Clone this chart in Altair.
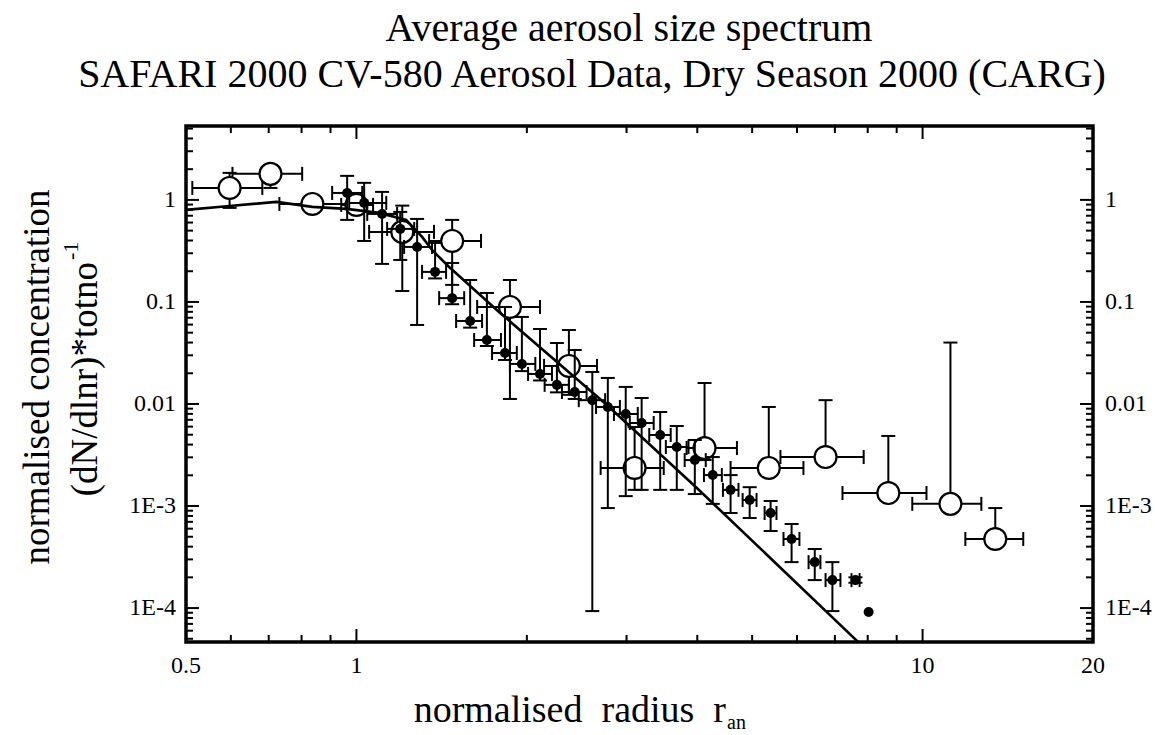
import altair as alt
import pandas as pd

FONT = "Liberation Serif"
W, H = 907, 516
XDOM = [0.5, 20]
YDOM = [4.65e-5, 5.3]

# ---- open circles (larger sample) ----
c_x = [0.597, 0.705, 0.836, 1.00, 1.205, 1.476, 1.867, 2.373, 3.10, 4.12, 5.35, 6.74, 8.70, 11.2, 13.44]
c_y = [1.31, 1.80, 0.913, 0.893, 0.486, 0.396, 0.0893, 0.0236, 0.00236, 0.00370, 0.00236, 0.00302, 0.00134, 0.00105, 0.000475]
c_xlo = [0.513, 0.604, 0.731, 0.94, 1.053, 1.344, 1.634, 2.145, 2.70, 3.83, 4.58, 5.61, 7.22, 9.59, 11.9]
c_xhi = [0.682, 0.802, 0.971, 1.07, 1.371, 1.66, 2.11, 2.66, 3.49, 4.70, 6.16, 7.87, 10.16, 12.7, 15.06]
c_ylo = [0.835, 1.31, 0.746, 0.75, 0.128, 0.147, 0.0112, 0.0123, 0.00144, 0.00282, 0.00236, 0.00302, 0.00134, 0.00105, 0.000475]
c_yhi = [1.84, 2.20, 1.09, 1.05, 0.879, 0.637, 0.164, 0.0531, 0.00595, 0.0161, 0.00935, 0.0109, 0.00486, 0.04, 0.000955]

# ---- filled dots ----
d_x = [0.963, 1.032, 1.11, 1.195, 1.28, 1.377, 1.476, 1.588, 1.70, 1.83, 1.96, 2.11, 2.26, 2.43, 2.61,
       2.78, 2.99, 3.19, 3.44, 3.68, 3.96, 4.26, 4.58, 4.95, 5.39, 5.87, 6.45, 6.93, 7.61, 8.03]
d_y = [1.17, 0.935, 0.729, 0.520, 0.346, 0.197, 0.109, 0.0651, 0.0424, 0.0316, 0.0247, 0.0197, 0.0154, 0.0131, 0.0109,
       0.00935, 0.00798, 0.00651, 0.00497, 0.00379, 0.00282, 0.00201, 0.00144, 0.001145, 0.000854, 0.000475, 0.000282, 0.000188, 0.000188, 0.0000914]
d_xlo = [0.906, 0.971, 1.045, 1.133, 1.214, 1.306, 1.40, 1.50, 1.614, 1.736, 1.867, 2.01, 2.15, 2.307, 2.47,
         2.65, 2.85, 3.04, 3.29, 3.52, 3.80, 4.11, 4.44, 4.81, 5.26, 5.68, 6.29, 6.74, 7.49, 8.03]
d_xhi = [1.024, 1.129, 1.18, 1.265, 1.36, 1.44, 1.55, 1.667, 1.80, 1.92, 2.07, 2.215, 2.373, 2.55, 2.75,
         2.92, 3.14, 3.35, 3.59, 3.86, 4.14, 4.42, 4.73, 5.09, 5.52, 6.06, 6.60, 7.16, 7.74, 8.03]
d_ylo = [0.637, 0.396, 0.236, 0.258, 0.0595, 0.17, 0.095, 0.056, 0.037, 0.027, 0.021, 0.017, 0.013, 0.0112, 0.0000934,
         0.000955, 0.00125, 0.00144, 0.00144, 0.00144, 0.00131, 0.00105, 0.000854, 0.000763, 0.000569, 0.000282, 0.000188, 0.0000934, 0.000177, 0.0000914]
d_yhi = [1.72, 1.47, 1.198, 0.763, 0.651, 0.379, 0.241, 0.164, 0.1225, 0.0893, 0.0713, 0.0543, 0.0396, 0.0338, 0.0206,
         0.0180, 0.0147, 0.01145, 0.00835, 0.00608, 0.00444, 0.00302, 0.00201, 0.00153, 0.00112, 0.000667, 0.000379, 0.000282, 0.000200, 0.0000914]

# ---- fitted curve ----
l_x = [0.5, 0.597, 0.722, 0.836, 0.960, 1.097, 1.224, 1.306, 1.36, 1.458, 1.786, 2.77, 3.98, 7.70]
l_y = [0.798, 0.873, 0.956, 0.854, 0.816, 0.746, 0.637, 0.434, 0.323, 0.220, 0.0798, 0.00977, 0.00153, 4.64e-5]

# ---- axis ticks / labels ----
x_major = [1, 10]
x_minor = [0.6, 0.7, 0.8, 0.9, 2, 3, 4, 5, 6, 7, 8, 9]
x_labels = [0.5, 1, 10, 20]
x_label_text = ["0.5", "1", "10", "20"]
y_major = [1, 0.1, 0.01, 0.001, 0.0001]
y_label_text = ["1", "0.1", "0.01", "1E-3", "1E-4"]
y_minor = [2, 3, 4, 5,
           0.2, 0.3, 0.4, 0.5, 0.6, 0.7, 0.8, 0.9,
           0.02, 0.03, 0.04, 0.05, 0.06, 0.07, 0.08, 0.09,
           0.002, 0.003, 0.004, 0.005, 0.006, 0.007, 0.008, 0.009,
           0.0002, 0.0003, 0.0004, 0.0005, 0.0006, 0.0007, 0.0008, 0.0009,
           0.00005, 0.00006, 0.00007, 0.00008, 0.00009]

xs = alt.Scale(type="log", domain=XDOM, nice=False)
ys = alt.Scale(type="log", domain=YDOM, nice=False)


def X(f):
    return alt.X(f, type="quantitative", scale=xs, axis=None)


def Y(f):
    return alt.Y(f, type="quantitative", scale=ys, axis=None)


cdf = pd.DataFrame(dict(x=c_x, y=c_y, xlo=c_xlo, xhi=c_xhi, ylo=c_ylo, yhi=c_yhi))
ddf = pd.DataFrame(dict(x=d_x, y=d_y, xlo=d_xlo, xhi=d_xhi, ylo=d_ylo, yhi=d_yhi))
ldf = pd.DataFrame(dict(x=l_x, y=l_y))


def caps(df):
    yc = []
    xc = []
    for _, r in df.iterrows():
        if r.ylo < r.y * 0.99:
            yc.append(dict(x=r.x, yc=r.ylo))
        if r.yhi > r.y * 1.01:
            yc.append(dict(x=r.x, yc=r.yhi))
        if r.xlo < r.x * 0.995:
            xc.append(dict(xc=r.xlo, y=r.y))
        if r.xhi > r.x * 1.005:
            xc.append(dict(xc=r.xhi, y=r.y))
    return pd.DataFrame(yc), pd.DataFrame(xc)


def errlayers(df, capsize):
    ycap, xcap = caps(df)
    base_rule = dict(color="black", strokeWidth=2)
    return [
        alt.Chart(df).mark_rule(**base_rule).encode(x=X("x"), y=Y("ylo"), y2=alt.Y2("yhi")),
        alt.Chart(df).mark_rule(**base_rule).encode(y=Y("y"), x=X("xlo"), x2=alt.X2("xhi")),
        alt.Chart(ycap).mark_tick(orient="horizontal", size=capsize, thickness=2, color="black", opacity=1)
        .encode(x=X("x"), y=Y("yc")),
        alt.Chart(xcap).mark_tick(orient="vertical", size=capsize, thickness=2, color="black", opacity=1)
        .encode(x=X("xc"), y=Y("y")),
    ]


layers = []
layers += errlayers(cdf, 14)
layers.append(
    alt.Chart(cdf).mark_circle(size=480, fill="white", stroke="black", strokeWidth=2.2, opacity=1)
    .encode(x=X("x"), y=Y("y"))
)
layers.append(
    alt.Chart(ldf).mark_line(color="black", strokeWidth=2.6, clip=True)
    .encode(x=X("x"), y=Y("y"))
)
layers += errlayers(ddf, 14)
layers.append(
    alt.Chart(ddf).mark_circle(size=100, color="black", opacity=1).encode(x=X("x"), y=Y("y"))
)

# ---- inward ticks ----
MAJ, MIN = 13, 7
xmaj = pd.DataFrame(dict(v=x_major))
xmin = pd.DataFrame(dict(v=x_minor))
ymaj = pd.DataFrame(dict(v=y_major))
ymin = pd.DataFrame(dict(v=y_minor))
tk = dict(color="black", strokeWidth=2)
for d, L in [(xmaj, MAJ), (xmin, MIN)]:
    layers.append(alt.Chart(d).mark_rule(**tk).encode(x=X("v"), y=alt.value(H), y2=alt.value(H - L)))
    layers.append(alt.Chart(d).mark_rule(**tk).encode(x=X("v"), y=alt.value(0), y2=alt.value(L)))
for d, L in [(ymaj, MAJ), (ymin, MIN)]:
    layers.append(alt.Chart(d).mark_rule(**tk).encode(y=Y("v"), x=alt.value(0), x2=alt.value(L)))
    layers.append(alt.Chart(d).mark_rule(**tk).encode(y=Y("v"), x=alt.value(W), x2=alt.value(W - L)))

# ---- tick labels ----
xl = pd.DataFrame(dict(v=x_labels, t=x_label_text))
yl = pd.DataFrame(dict(v=y_major, t=y_label_text))
lab = dict(font=FONT, fontSize=24, color="black")
layers.append(alt.Chart(xl).mark_text(baseline="middle", align="center", **lab)
              .encode(x=X("v"), y=alt.value(H + 24), text="t:N"))
layers.append(alt.Chart(yl).mark_text(baseline="middle", align="right", **lab)
              .encode(y=Y("v"), x=alt.value(-10), text="t:N"))
layers.append(alt.Chart(yl).mark_text(baseline="middle", align="left", **lab)
              .encode(y=Y("v"), x=alt.value(W + 12), text="t:N"))

# ---- titles ----
one = pd.DataFrame(dict(a=[0]))
ttl = dict(font=FONT, fontSize=40, color="black")
axt = dict(font=FONT, fontSize=37, color="black")
layers.append(alt.Chart(one).mark_text(text="Average aerosol size spectrum", align="center",
                                       baseline="alphabetic", **ttl)
              .encode(x=alt.value(443), y=alt.value(-85)))
layers.append(alt.Chart(one).mark_text(text="SAFARI 2000 CV-580 Aerosol Data, Dry Season 2000 (CARG)",
                                       align="center", baseline="alphabetic", **ttl)
              .encode(x=alt.value(406), y=alt.value(-39)))
# y title
layers.append(alt.Chart(one).mark_text(text="normalised concentration", angle=270, align="center",
                                       baseline="middle", **axt)
              .encode(x=alt.value(-148), y=alt.value(251)))
layers.append(alt.Chart(one).mark_text(text="(dN/dlnr)*totno", angle=270, align="right",
                                       baseline="middle", **axt)
              .encode(x=alt.value(-100), y=alt.value(136)))
layers.append(alt.Chart(one).mark_text(text="-1", angle=270, align="left",
                                       baseline="middle", font=FONT, fontSize=22, color="black")
              .encode(x=alt.value(-115), y=alt.value(134)))
# x title
layers.append(alt.Chart(one).mark_text(text="normalised\u00a0\u00a0radius\u00a0\u00a0r", align="right",
                                       baseline="alphabetic", font=FONT, fontSize=38, color="black")
              .encode(x=alt.value(540), y=alt.value(596)))
layers.append(alt.Chart(one).mark_text(text="an", align="left", baseline="alphabetic",
                                       font=FONT, fontSize=20, color="black")
              .encode(x=alt.value(541), y=alt.value(603)))

chart = (
    alt.layer(*layers)
    .properties(width=W, height=H, autosize=alt.AutoSizeParams(type="none"),
                padding={"left": 186, "top": 126, "right": 62, "bottom": 93},
                background="white")
    .configure_view(stroke="black", strokeWidth=3.5)
)

chart.save("out.html", embed_options={"renderer": "svg", "actions": False})
